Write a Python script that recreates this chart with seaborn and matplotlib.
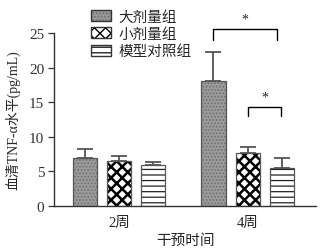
import numpy as np
import pandas as pd
import matplotlib
matplotlib.use('Agg')
import matplotlib.pyplot as plt
import seaborn as sns

# data
periods = ['2周', '4周']
groups = ['大剂量组', '小剂量组', '模型对照组']
means = {
    '大剂量组': [7.0, 18.0],
    '小剂量组': [6.45, 7.6],
    '模型对照组': [5.9, 5.55],
}
sds = {
    '大剂量组': [1.2, 4.2],
    '小剂量组': [0.8, 0.9],
    '模型对照组': [0.5, 1.45],
}

rows = []
for g in groups:
    for i, p in enumerate(periods):
        rows.append({'period': p, 'group': g, 'val': means[g][i], 'sd': sds[g][i]})
df = pd.DataFrame(rows)

sns.set_style('ticks')
plt.rcParams['font.family'] = ['Liberation Serif', 'Noto Sans CJK SC', 'DejaVu Sans']
plt.rcParams['hatch.linewidth'] = 1.0

fig = plt.figure(figsize=(3.31, 2.51), dpi=100)
ax = fig.add_axes([0.163, 0.175, 0.792, 0.69])

sns.barplot(data=df, x='period', y='val', hue='group', order=periods, hue_order=groups,
            errorbar=None, gap=0.3, ax=ax, legend=False,
            palette=['#9a9a9a', 'white', 'white'], edgecolor='#555555', linewidth=0.9)

hatches = {'大剂量组': '.....', '小剂量组': 'xxx', '模型对照组': '---'}
hatch_lw = {'大剂量组': 0.8, '小剂量组': 1.8, '模型对照组': 0.9}
hatch_col = {'大剂量组': '#707070', '小剂量组': 'black', '模型对照组': '#222222'}


def style_patch(p, g):
    p.set_hatch(hatches[g])
    p._hatch_color = matplotlib.colors.to_rgba(hatch_col[g])
    if hasattr(p, 'set_hatch_linewidth'):
        p.set_hatch_linewidth(hatch_lw[g])


centers = {}
for gi, g in enumerate(groups):
    cont = ax.containers[gi]
    xs, tops = [], []
    for bar in cont:
        style_patch(bar, g)
        xs.append(bar.get_x() + bar.get_width() / 2)
        tops.append(bar.get_height())
    centers[g] = xs
    ax.errorbar(xs, tops, yerr=[np.zeros(len(xs)), sds[g]], fmt='none',
                ecolor='#555555', elinewidth=1.3, capsize=6, capthick=1.3)

# significance brackets at 4周
def bracket(x1, x2, y, h):
    ax.plot([x1, x1, x2, x2], [y - h, y, y, y - h], color='black', lw=1.0, clip_on=False)
    ax.text((x1 + x2) / 2, y + 0.5, '*', ha='center', va='bottom', fontsize=10, clip_on=False)

bracket(centers['大剂量组'][1], centers['模型对照组'][1] - 0.04, 25.6, 1.6)
bracket(centers['小剂量组'][1], centers['模型对照组'][1] - 0.01, 14.3, 1.3)

ax.set_ylim(0, 25)
ax.set_xlim(-0.505, 1.53)
ax.set_yticks([0, 5, 10, 15, 20, 25])
ax.tick_params(axis='y', labelsize=11, length=4, width=0.9, colors='#333333', pad=3)
ax.tick_params(axis='x', labelsize=10.5, length=0, pad=7)
sns.despine(ax=ax)
for s in ['left', 'bottom']:
    ax.spines[s].set_linewidth(1.0)
    ax.spines[s].set_color('#333333')
ax.set_xlabel('干预时间', fontsize=10.5, labelpad=3)
ax.set_ylabel('血清TNF-α水平(pg/mL)', fontsize=10, labelpad=6)

handles = []
for g, c in zip(groups, ['#9a9a9a', 'white', 'white']):
    h = matplotlib.patches.Patch(facecolor=c, edgecolor='#333333')
    style_patch(h, g)
    handles.append(h)
fig.legend(handles, groups, loc='upper left', bbox_to_anchor=(0.235, 1.01), frameon=False,
           fontsize=10.5, handlelength=1.4, handleheight=0.8, labelspacing=0.25, handletextpad=0.5)

fig.savefig('out.png', dpi=100)
